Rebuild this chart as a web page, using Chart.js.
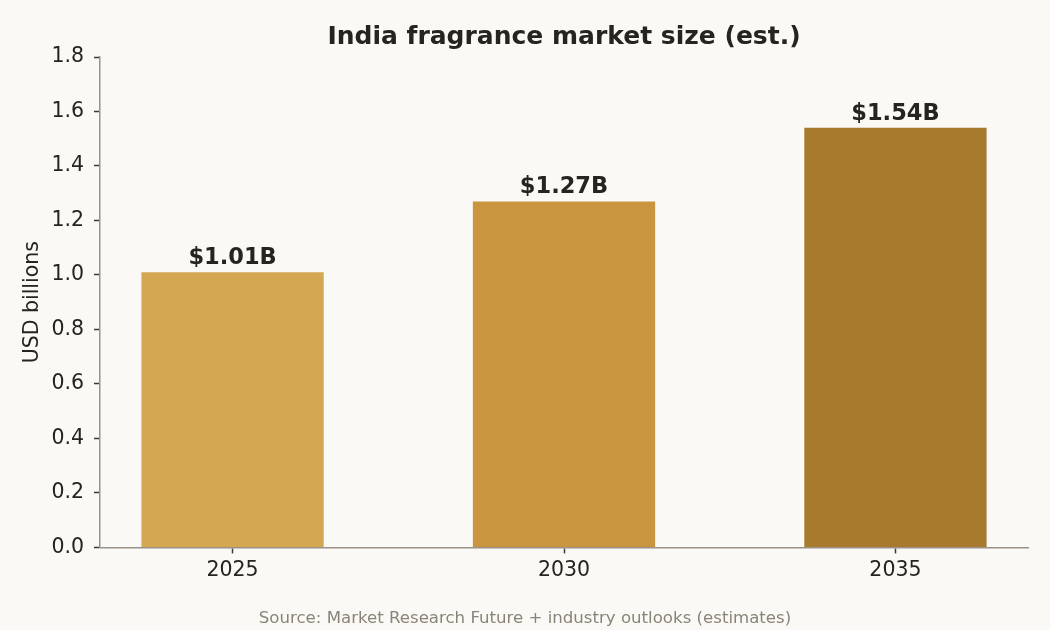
<!DOCTYPE html>
<html><head><meta charset="utf-8">
<script src="https://cdn.jsdelivr.net/npm/chart.js@4"></script>
<style>
html,body{margin:0;padding:0;background:#faf9f5;}
#wrap{width:1050px;height:630px;position:relative;}
</style></head>
<body><div id="wrap"><canvas id="c"></canvas></div>
<script>
const categories = ['2025', '2030', '2035'];
const values = [1.01, 1.27, 1.54];
const valueLabels = ['$1.01B', '$1.27B', '$1.54B'];
const barColors = ['#d4a853', '#c9963f', '#a87a2e'];
const yTicks = [0, 0.2, 0.4, 0.6, 0.8, 1.0, 1.2, 1.4, 1.6, 1.8];
const titleText = 'India fragrance market size (est.)';
const sourceText = 'Source: Market Research Future + industry outlooks (estimates)';

const FONT = "'DejaVu Sans', sans-serif";
const TEXT = '#262420';
const AXIS = '#9a9288';

const bgPlugin = {
  id: 'bg',
  beforeDraw(chart) {
    const ctx = chart.ctx;
    ctx.save();
    ctx.fillStyle = '#faf9f5';
    ctx.fillRect(0, 0, chart.width, chart.height);
    ctx.restore();
  }
};

const textPlugin = {
  id: 'texts',
  afterDatasetsDraw(chart) {
    const ctx = chart.ctx;
    const meta = chart.getDatasetMeta(0);
    const ca = chart.chartArea;
    ctx.save();
    ctx.font = "bold 22.5px " + FONT;
    ctx.fillStyle = TEXT;
    ctx.textAlign = 'center';
    ctx.textBaseline = 'alphabetic';
    meta.data.forEach((bar, i) => {
      ctx.fillText(valueLabels[i], bar.x, bar.y - 8);
    });
    ctx.font = "bold 25px " + FONT;
    ctx.textBaseline = 'middle';
    ctx.fillText(titleText, (ca.left + ca.right) / 2, 37);
    ctx.font = "16.6px " + FONT;
    ctx.fillStyle = '#8a8478';
    ctx.fillText(sourceText, chart.width / 2, 619);
    ctx.restore();
  }
};

new Chart(document.getElementById('c'), {
  type: 'bar',
  data: {
    datasets: [{
      data: values.map((v, i) => ({x: i, y: v})),
      backgroundColor: barColors,
      barPercentage: 0.55,
      categoryPercentage: 1.0,
      borderWidth: 0
    }]
  },
  options: {
    responsive: true,
    maintainAspectRatio: false,
    animation: false,
    layout: {padding: {left: 0, right: 22, top: 57, bottom: 42}},
    plugins: {
      legend: {display: false},
      tooltip: {enabled: false},
      title: {display: false},
      subtitle: {display: false}
    },
    scales: {
      x: {
        type: 'linear',
        min: -0.4,
        max: 2.4,
        offset: false,
        afterBuildTicks(scale) {
          scale.ticks = categories.map((c, i) => ({value: i}));
        },
        ticks: {
          color: TEXT,
          font: {family: FONT, size: 20.5},
          padding: 5,
          autoSkip: false,
          maxRotation: 0,
          callback: (v) => categories[v]
        },
        grid: {offset: false, drawOnChartArea: false, drawTicks: true, tickLength: 6, tickColor: '#3d3a35', tickWidth: 1.5},
        border: {display: true, color: AXIS, width: 1.5}
      },
      y: {
        min: 0,
        max: 1.8,
        afterBuildTicks(scale) {
          scale.ticks = yTicks.map(v => ({value: v}));
        },
        afterFit(scale) { scale.width = 100; },
        ticks: {
          color: TEXT,
          font: {family: FONT, size: 20.5},
          padding: 10,
          callback: (v) => Number(v).toFixed(1)
        },
        title: {
          display: true,
          text: 'USD billions',
          color: TEXT,
          font: {family: FONT, size: 20.5, lineHeight: 1.2},
          padding: {top: 20, bottom: 0}
        },
        grid: {drawOnChartArea: false, drawTicks: true, tickLength: 6, tickColor: '#3d3a35', tickWidth: 1.5},
        border: {display: true, color: AXIS, width: 1.5}
      }
    }
  },
  plugins: [bgPlugin, textPlugin]
});
</script></body></html>
